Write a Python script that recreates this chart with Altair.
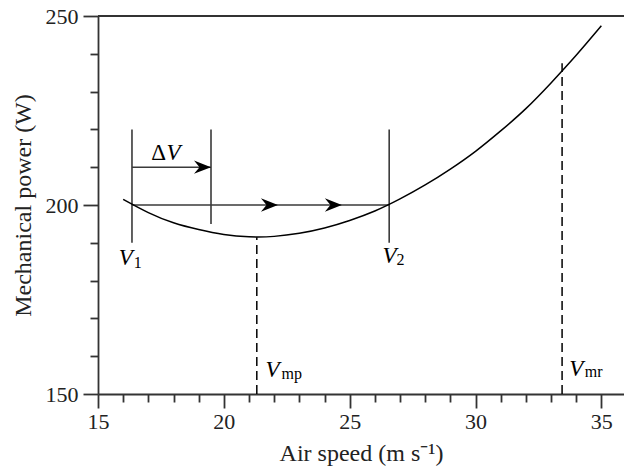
import altair as alt
import pandas as pd

# Mechanical power curve
speed = [16, 17, 18, 19, 20, 21, 22, 23, 24, 25, 26, 27, 28, 29, 30, 31, 32, 33, 34, 35]
power = [201.5, 198.0, 195.3, 193.5, 192.2, 191.6, 191.7, 192.5, 193.9, 195.9,
         198.4, 201.6, 205.3, 209.5, 214.2, 219.6, 225.5, 232.3, 239.6, 247.4]

# Key speeds
v1 = 16.35
v1_dv = 19.49
v2 = 26.57
v_mp = 21.31
v_mr = 33.44

# Solid construction lines (vertical)
vert_x = [v1, v1_dv, v2]
vert_y = [190, 195, 190]
vert_y2 = [220, 220, 220]

# Horizontal arrow lines
hor_x = [v1, v1]
hor_x2 = [v2, v1_dv]
hor_y = [200, 210]

# Dashed lines
dash_x = [v_mp, v_mr]
dash_y = [150, 150]
dash_y2 = [191.5, 237.5]

# Arrow heads (tip positions)
arrow_x = [v1_dv, 22.15, 24.69]
arrow_y = [210, 200, 200]

# Labels: main glyph, position (left/baseline)
main_text = ["V", "V", "V", "V", "V"]
main_x = [15.82, 26.30, 21.66, 33.72, 17.72]
main_y = [184.1, 184.7, 154.6, 154.8, 211.9]
sub_text = ["1", "2", "mp", "mr"]
sub_x = [16.42, 26.86, 22.29, 34.34]
sub_y = [183.3, 184.1, 154.0, 154.4]
delta_text = ["Δ"]
delta_x = [17.12]
delta_y = [211.9]

x_domain = [15, 35.9]
y_domain = [150, 250]

FONT = "Liberation Serif"
AX_COLOR = "#333333"

x_scale = alt.Scale(domain=x_domain, nice=False, zero=False)
y_scale = alt.Scale(domain=y_domain, nice=False, zero=False)

x_axis = alt.Axis(
    values=list(range(15, 36)),
    labelExpr="datum.value % 5 === 0 ? datum.label : ''",
    tickSize={"condition": {"test": "datum.value % 5 === 0", "value": 14}, "value": 8},
    labelPadding=3,
    titlePadding=9,
    grid=False,
    labelFlush=False,
    labelOverlap=False,
)
y_axis = alt.Axis(
    values=list(range(150, 251, 10)),
    labelExpr="datum.value % 50 === 0 ? datum.label : ''",
    tickSize={"condition": {"test": "datum.value % 50 === 0", "value": 15}, "value": 8},
    labelPadding=5,
    titlePadding=10,
    grid=False,
    labelFlush=False,
    labelOverlap=False,
)

XT = "Air speed (m s⁻¹)"
YT = "Mechanical power (W)"


def X(field):
    return alt.X(field, type="quantitative", scale=x_scale, axis=x_axis, title=XT)


def Y(field):
    return alt.Y(field, type="quantitative", scale=y_scale, axis=y_axis, title=YT)


curve_df = pd.DataFrame({"speed": speed, "power": power})
curve = alt.Chart(curve_df).mark_line(
    color="black", strokeWidth=1.5, interpolate="natural"
).encode(x=X("speed"), y=Y("power"))

top_df = pd.DataFrame({"x": [x_domain[0]], "x2": [x_domain[1]], "y": [y_domain[1]]})
top = alt.Chart(top_df).mark_rule(color=AX_COLOR, strokeWidth=1.8).encode(
    x=X("x"), x2="x2", y=Y("y")
)

vert_df = pd.DataFrame({"x": vert_x, "y": vert_y, "y2": vert_y2})
vert = alt.Chart(vert_df).mark_rule(color="#3a3a3a", strokeWidth=1.6).encode(
    x=X("x"), y=Y("y"), y2="y2"
)

hor_df = pd.DataFrame({"x": hor_x, "x2": hor_x2, "y": hor_y})
hor = alt.Chart(hor_df).mark_rule(color="#3a3a3a", strokeWidth=1.4).encode(
    x=X("x"), x2="x2", y=Y("y")
)

dash_df = pd.DataFrame({"x": dash_x, "y": dash_y, "y2": dash_y2})
dash = alt.Chart(dash_df).mark_rule(
    color="black", strokeWidth=1.5, strokeDash=[9, 5]
).encode(x=X("x"), y=Y("y"), y2="y2")

arrow_df = pd.DataFrame({"x": arrow_x, "y": arrow_y})
arrows = alt.Chart(arrow_df).mark_point(
    shape="M 0 0 L -2 -0.78 L -1.35 0 L -2 0.78 Z",
    size=289, filled=True, color="black", opacity=1, strokeWidth=0,
).encode(x=X("x"), y=Y("y"))

main_df = pd.DataFrame({"t": main_text, "x": main_x, "y": main_y})
main_lbl = alt.Chart(main_df).mark_text(
    align="left", baseline="alphabetic", font=FONT, fontSize=23,
    fontStyle="italic", color="black",
).encode(x=X("x"), y=Y("y"), text="t:N")

sub_df = pd.DataFrame({"t": sub_text, "x": sub_x, "y": sub_y})
sub_lbl = alt.Chart(sub_df).mark_text(
    align="left", baseline="alphabetic", font=FONT, fontSize=16, color="black",
).encode(x=X("x"), y=Y("y"), text="t:N")

delta_df = pd.DataFrame({"t": delta_text, "x": delta_x, "y": delta_y})
delta_lbl = alt.Chart(delta_df).mark_text(
    align="left", baseline="alphabetic", font=FONT, fontSize=23, color="black",
).encode(x=X("x"), y=Y("y"), text="t:N")

chart = alt.layer(
    top, vert, hor, dash, curve, arrows, main_lbl, sub_lbl, delta_lbl
).properties(
    width=526,
    height=378,
    autosize=alt.AutoSizeParams(type="none"),
    padding={"left": 98, "top": 16, "right": 0, "bottom": 74},
).configure_view(stroke=None).configure_axis(
    domainColor=AX_COLOR,
    domainWidth=1.8,
    tickColor=AX_COLOR,
    tickWidth=1.8,
    labelFont=FONT,
    labelFontSize=22,
    labelColor="#222222",
    titleFont=FONT,
    titleFontSize=24,
    titleFontWeight="normal",
    titleColor="#222222",
)

chart.save("out.html", embed_options={"renderer": "svg", "actions": False})
